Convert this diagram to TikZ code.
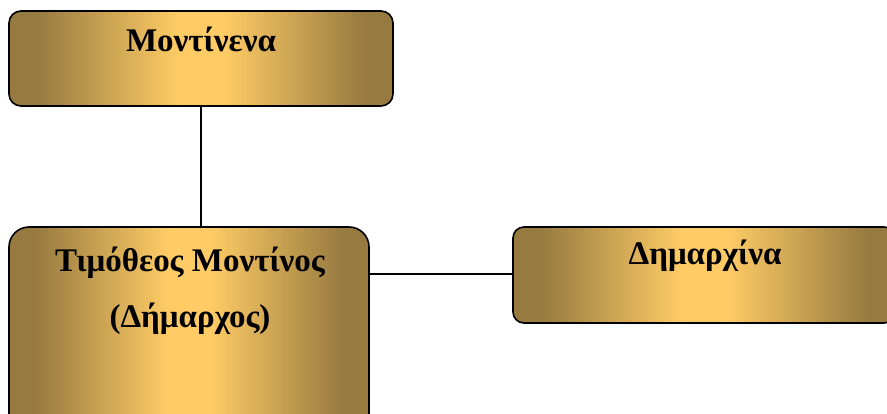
\documentclass[tikz,border=0pt]{standalone}
\usepackage{fontspec}
\setmainfont{Liberation Serif}
\definecolor{gdark}{RGB}{150,122,64}
\definecolor{glight}{RGB}{254,203,101}
\pgfdeclarehorizontalshading{goldh}{100bp}{color(0bp)=(gdark); color(25bp)=(gdark); color(28.5bp)=(gdark); color(47bp)=(glight); color(53bp)=(glight); color(71.5bp)=(gdark); color(75bp)=(gdark); color(100bp)=(gdark)}
\begin{document}
\begin{tikzpicture}[x=1pt,y=-1pt,
  goldbox/.style={draw=black, line width=1.6pt, shading=goldh, shading angle=0},
  lbl/.style={anchor=base, inner sep=0pt, font=\fontsize{33}{38}\selectfont\bfseries},
  conn/.style={draw=black, line width=1.4pt}]
\useasboundingbox (0,0) rectangle (887,414);
\begin{scope}
\clip (0,0) rectangle (887,414);
\node[goldbox, rounded corners=12pt, minimum width=384pt, minimum height=95pt, inner sep=0pt] (b1) at (201,58.5) {};
\node[goldbox, rounded corners=20pt, minimum width=360pt, minimum height=210pt, inner sep=0pt] (b2) at (189,332) {};
\node[goldbox, rounded corners=11pt, minimum width=382pt, minimum height=96pt, inner sep=0pt] (b3) at (704,275) {};
\end{scope}
\coordinate (b1s) at (201,106);
\coordinate (b2n) at (201,227);
\coordinate (b2e) at (369,274);
\coordinate (b3w) at (513,274);
\draw[conn] (b1s) -- (b2n);
\draw[conn] (b2e) -- (b3w);
\node[lbl] (t1) at (201,52) {Μοντίνενα};
\node[lbl] (t2) at (190,272) {Τιμόθεος Μοντίνος};
\node[lbl] (t3) at (190,328) {(Δήμαρχος)};
\node[lbl] (t4) at (705,265) {Δημαρχίνα};
\end{tikzpicture}
\end{document}
